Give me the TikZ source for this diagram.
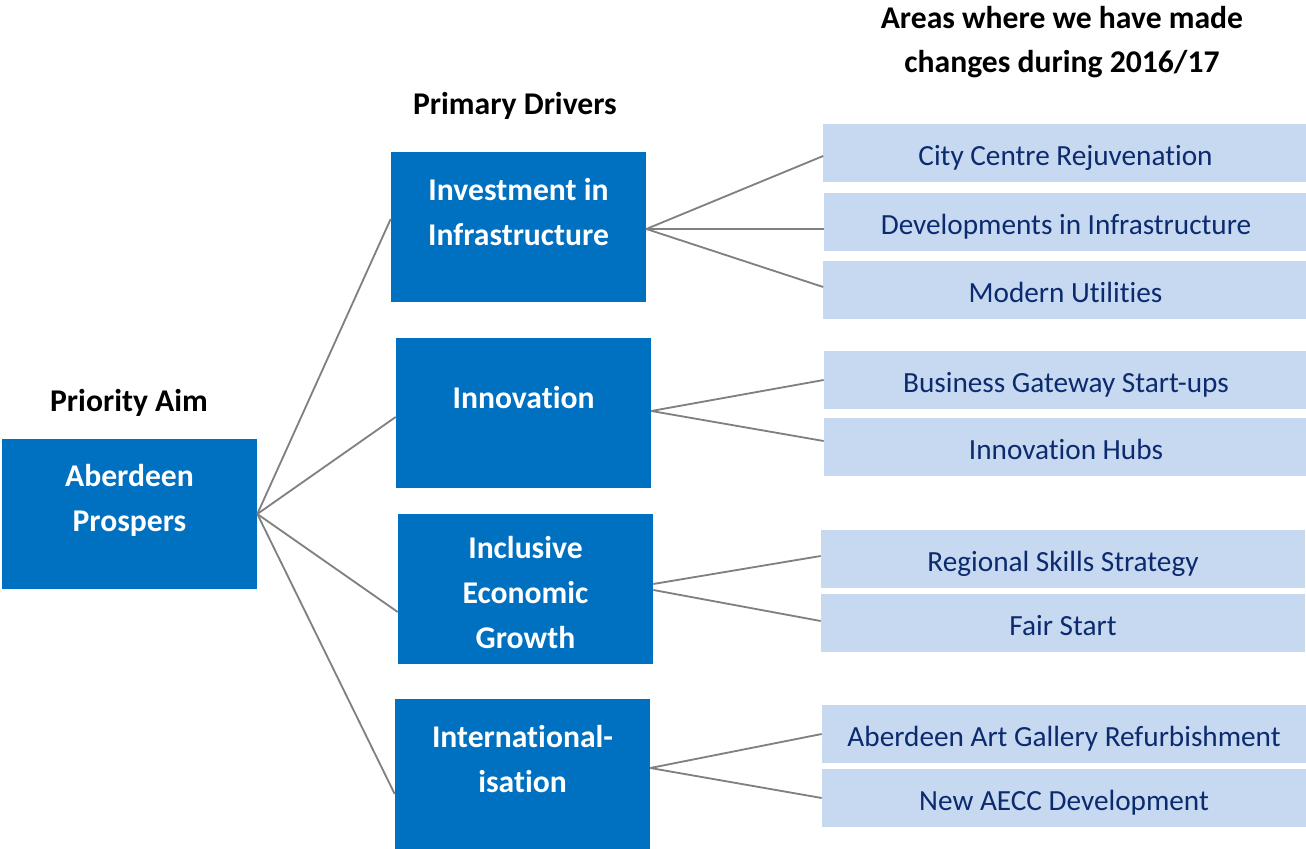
\documentclass[tikz,border=0pt]{standalone}
\usepackage{fontspec}
\setmainfont{Carlito}[Ligatures=NoCommon]
\usepackage{tikz}
\usetikzlibrary{positioning, calc}
\definecolor{aimblue}{HTML}{0070C0}
\definecolor{arealight}{HTML}{C6D9F1}
\definecolor{areatext}{HTML}{0C2A6E}
\definecolor{linkgray}{HTML}{808080}
\tikzset{
    dbox/.style={rectangle, fill=aimblue, minimum width=6.375cm,
                 minimum height=3.75cm, inner sep=0pt},
    dtext/.style={text=white, align=center, inner sep=0pt,
                  font=\fontsize{22.5}{32}\selectfont\bfseries},
    lbox/.style={rectangle, fill=arealight, minimum width=12.1cm,
                 minimum height=1.45cm, inner sep=0pt, text=areatext,
                 text height=18.4pt, text depth=0pt,
                 font=\fontsize{20.8}{25}\selectfont},
    head/.style={align=center, inner sep=0pt,
                 font=\fontsize{22.5}{31.3}\selectfont\bfseries},
    link/.style={draw=linkgray, line width=1.3pt}
}
\begin{document}
\begin{tikzpicture}[x=0.025cm, y=0.025cm]
\useasboundingbox (0,0) rectangle (1306,848);

% ── Column headings ───────────────────────────────────────────────────
\node[head] at (129, 445)  (hAim)   {Priority Aim};
\node[head] at (515, 742)  (hDrv)   {Primary Drivers};
\node[head] at (1062, 806) (hArea)  {Areas where we have made\\changes during 2016/17};

% ── Priority aim ──────────────────────────────────────────────────────
\node[dbox] at (129.5, 334) (aim) {};
\node[dtext] at (129.5, 348) (aimT) {Aberdeen\\Prospers};

% ── Primary drivers ───────────────────────────────────────────────────
\node[dbox] at (518.5, 621) (inv)  {};
\node[dbox] at (523.5, 435) (inn)  {};
\node[dbox] at (525.5, 259) (inc)  {};
\node[dbox] at (522.5, 74)  (intl) {};
\node[dtext] at (518.5, 636) (invT)  {Investment in\\Infrastructure};
\node[dtext] at (523.5, 450) (innT)  {Innovation};
\node[dtext] at (525.5, 255) (incT)  {Inclusive\\Economic\\Growth};
\node[dtext] at (522.5, 89)  (intlT) {International-\\isation};

% ── Areas of change (run off the right edge) ─────────────────────────
\node[lbox] at (1065.5, 695) (city)    {City Centre Rejuvenation};
\node[lbox] at (1066,   626) (devel)   {Developments in Infrastructure};
\node[lbox] at (1065.5, 558) (util)    {Modern Utilities};
\node[lbox] at (1066,   468) (gateway) {Business Gateway Start-ups};
\node[lbox] at (1066,   401) (hubs)    {Innovation Hubs};
\node[lbox] at (1063,   289) (skills)  {Regional Skills Strategy};
\node[lbox] at (1063,   225) (fair)    {Fair Start};
\node[lbox] at (1064,   114) (gallery) {Aberdeen Art Gallery Refurbishment};
\node[lbox] at (1064,   50)  (aecc)    {New AECC Development};

% ── Aim to drivers ────────────────────────────────────────────────────
\draw[link] (aim.east) -- ($(inv.west)+(0,8)$);
\draw[link] (aim.east) -- ($(inn.west)+(0,-4)$);
\draw[link] (aim.east) -- ($(inc.west)+(0,-23)$);
\draw[link] (aim.east) -- ($(intl.west)+(0,-20)$);

% ── Drivers to areas ──────────────────────────────────────────────────
\draw[link] ($(inv.east)+(0,-2)$) -- ($(city.west)+(0,-3)$);
\draw[link] ($(inv.east)+(0,-2)$) -- ($(devel.west)+(0,-7)$);
\draw[link] ($(inv.east)+(0,-2)$) -- ($(util.west)+(0,3)$);
\draw[link] ($(inn.east)+(0,2)$)  -- (gateway.west);
\draw[link] ($(inn.east)+(0,2)$)  -- ($(hubs.west)+(0,6)$);
\draw[link] ($(inc.east)+(0,5)$)  -- ($(skills.west)+(0,3)$);
\draw[link] ($(inc.east)+(0,-1)$) -- ($(fair.west)+(0,2)$);
\draw[link] ($(intl.east)+(0,6)$) -- (gallery.west);
\draw[link] ($(intl.east)+(0,6)$) -- (aecc.west);
\end{tikzpicture}
\end{document}
